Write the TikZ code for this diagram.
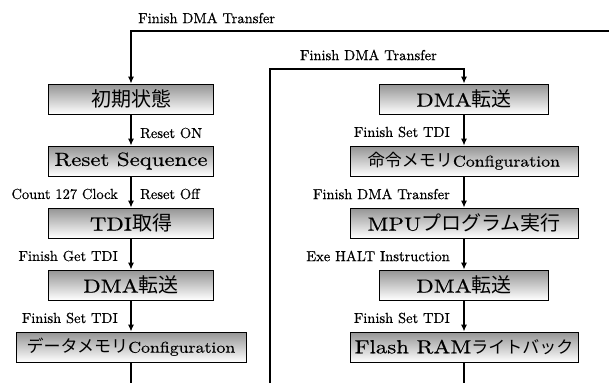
\documentclass[tikz,border=0pt]{standalone}
\usepackage{fontspec}
\usepackage{graphicx}
\usetikzlibrary{arrows.meta}
\setmainfont{lmroman10-regular}[Extension=.otf, FakeBold=0.5]
\newfontfamily\jpf{Noto Sans CJK JP}
\newcommand{\wlat}[2][1.2]{\scalebox{#1}[1]{#2}}
\newcommand{\jbig}[1]{{\jpf\fontsize{20}{22}\selectfont #1}}
\newcommand{\jsmall}[1]{{\jpf\fontsize{17}{20}\selectfont #1}}
\tikzset{
  stbox/.style={draw=black, line width=0.7pt, top color=black!42, bottom color=white,
    minimum height=30pt, inner sep=0pt, font=\fontsize{19}{21}\selectfont},
  flow/.style={line width=1.8pt, -{Latex[length=7pt,width=6pt]}},
  plainln/.style={line width=1.8pt},
  lab/.style={font=\fontsize{14.5}{16}\selectfont, inner sep=0pt},
}
\begin{document}
\begin{tikzpicture}[x=1pt,y=1pt]
\fill[white] (0,0) rectangle (609,-383);
\useasboundingbox (0,0) rectangle (609,-383);

% left column
\node[stbox, minimum width=165pt] (L1) at (131,-99) {\jbig{初期状態}};
\node[stbox, minimum width=165pt] (L2) at (131,-161) {\wlat{Reset Sequence}};
\node[stbox, minimum width=165pt] (L3) at (131,-223) {\wlat{TDI}\jbig{取得}};
\node[stbox, minimum width=165pt] (L4) at (131,-285) {\wlat{DMA}\jbig{転送}};
\node[stbox, minimum width=230pt] (L5) at (131,-347) {\jsmall{データメモリ}{\fontsize{15.5}{18}\selectfont\wlat[1.15]{Configuration}}};

% right column
\node[stbox, minimum width=169pt] (R1) at (464,-99) {\wlat{DMA}\jbig{転送}};
\node[stbox, minimum width=228pt] (R2) at (464,-161) {\jsmall{命令メモリ}{\fontsize{15.5}{18}\selectfont\wlat[1.15]{Configuration}}};
\node[stbox, minimum width=228pt] (R3) at (464,-223) {\wlat{MPU}\jbig{プログラム実行}};
\node[stbox, minimum width=169pt] (R4) at (464,-285) {\wlat{DMA}\jbig{転送}};
\node[stbox, minimum width=228pt] (R5) at (464,-347) {\wlat{Flash RAM}\jsmall{ライトバック}};

% free ends
\coordinate (topR) at (609,-31);
\coordinate (midB) at (270,-383);
\coordinate (midT) at (270,-69);
\coordinate (Lend) at (131,-383);
\coordinate (Rend) at (464,-383);

% connectors
\draw[flow] (topR) -- (L1.north |- topR) -- (L1.north);
\draw[flow] (midB) -- (midT) -- (R1.north |- midT) -- (R1.north);
\draw[flow] (L1.south) -- (L2.north);
\draw[flow] (L2.south) -- (L3.north);
\draw[flow] (L3.south) -- (L4.north);
\draw[flow] (L4.south) -- (L5.north);
\draw[plainln] (L5.south) -- (Lend);
\draw[flow] (R1.south) -- (R2.north);
\draw[flow] (R2.south) -- (R3.north);
\draw[flow] (R3.south) -- (R4.north);
\draw[flow] (R4.south) -- (R5.north);
\draw[plainln] (R5.south) -- (Rend);

% labels
\node[lab, anchor=west] (t1) at (138,-18) {Finish DMA Transfer};
\node[lab, anchor=east] (t2) at (437,-55) {Finish DMA Transfer};
\node[lab, anchor=west] (a1) at (140,-133) {Reset ON};
\node[lab, anchor=east] (a2) at (118,-194) {Count 127 Clock};
\node[lab, anchor=west] (a3) at (140,-194) {Reset Off};
\node[lab, anchor=east] (a4) at (118,-256) {Finish Get TDI};
\node[lab, anchor=east] (a5) at (118,-318) {Finish Set TDI};
\node[lab, anchor=east] (b1) at (450,-132) {Finish Set TDI};
\node[lab, anchor=east] (b2) at (450,-194) {Finish DMA Transfer};
\node[lab, anchor=east] (b3) at (450,-256) {Exe HALT Instruction};
\node[lab, anchor=east] (b4) at (450,-318) {Finish Set TDI};
\end{tikzpicture}
\end{document}
